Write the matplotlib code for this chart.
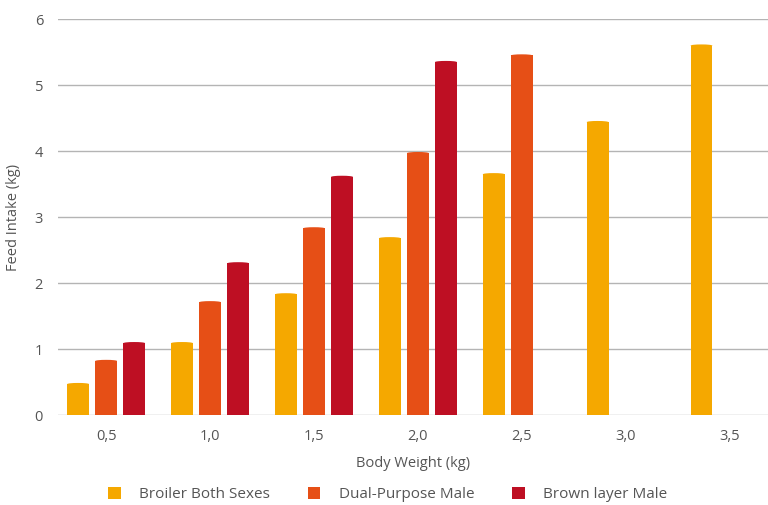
import numpy as np
import matplotlib
matplotlib.use("Agg")
import matplotlib.pyplot as plt
from matplotlib.patches import Ellipse

plt.rcParams['font.family'] = ['Open Sans', 'DejaVu Sans']

# body weight classes and feed intake per line (kg)
weights = ["0,5", "1,0", "1,5", "2,0", "2,5", "3,0", "3,5"]
broiler = [0.47, 1.09, 1.83, 2.68, 3.65, 4.44, 5.60]
dual = [0.82, 1.71, 2.83, 3.97, 5.45]
brown = [1.09, 2.30, 3.61, 5.35]

series = [
    ("Broiler Both Sexes", broiler, "#F5A800"),
    ("Dual-Purpose Male", dual, "#E64F16"),
    ("Brown layer Male", brown, "#BE0F23"),
]

grey = "#555555"
fig = plt.figure(figsize=(7.68, 5.05), dpi=100)
ax = fig.add_axes([0.076, 0.178, 0.924, 0.784])

x = np.arange(len(weights))
step = 0.27
w = 0.21
for i, (name, vals, col) in enumerate(series):
    pos = x[:len(vals)] + (i - 1) * step
    ax.bar(pos, vals, width=w, color=col, label=name, zorder=3)
    # slightly domed tops
    for p, v in zip(pos, vals):
        ax.add_patch(Ellipse((p, v), w, 0.035, color=col, zorder=3, lw=0))

ax.set_xlim(-0.46, 6.37)
ax.set_ylim(0, 6)
ax.set_yticks(range(7))
ax.set_xticks(x)
ax.set_xticklabels(weights)
ax.grid(axis='y', color='#b4b4b4', lw=1, zorder=0)
for s in ax.spines.values():
    s.set_visible(False)
ax.tick_params(length=0, colors=grey, labelsize=10.5)
ax.tick_params(axis='x', pad=10)
ax.tick_params(axis='y', pad=11)

ax.set_xlabel("Body Weight (kg)", color=grey, fontsize=10.5, labelpad=9)
ax.set_ylabel("Feed Intake (kg)", color=grey, fontsize=10.5, labelpad=10)

leg = fig.legend(loc='lower center', bbox_to_anchor=(0.505, -0.022), ncol=3,
                 frameon=False, handlelength=0.8, handleheight=0.8,
                 columnspacing=2.5, handletextpad=1.2, fontsize=11)
for t in leg.get_texts():
    t.set_color(grey)

fig.savefig("out.png", dpi=100)
